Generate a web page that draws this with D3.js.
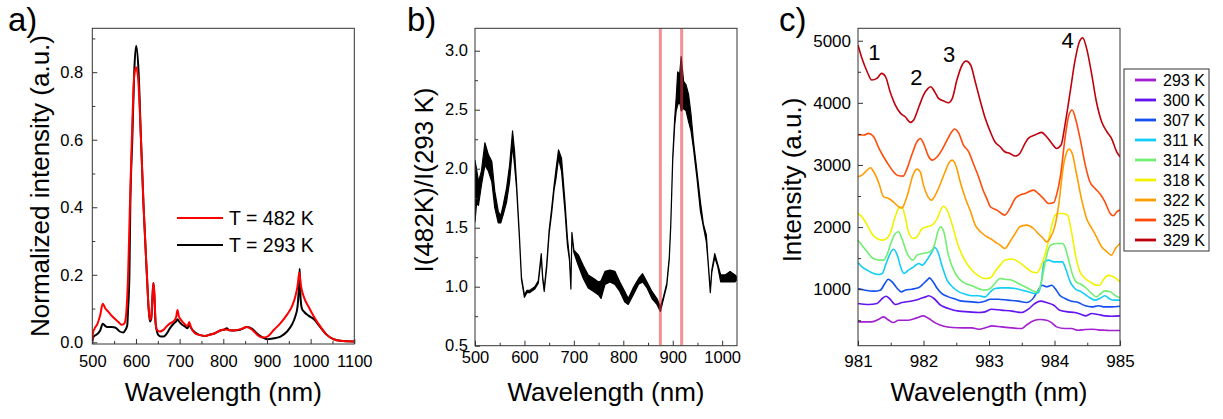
<!DOCTYPE html>
<html lang="en">
<head>
<meta charset="utf-8">
<title>Emission spectra</title>
<script src="https://cdn.jsdelivr.net/npm/d3@7"></script>
<style>
  body { margin: 0; background: #fff; }
  text { font-family: Arial, "Liberation Sans", sans-serif; fill: #000; }
</style>
</head>
<body>
<script>
// ---- panel a: normalized spectra ----
var aHot = [[500,0.005],[502,0.03],[505,0.04],[512,0.055],[518,0.08],[524,0.114],[530,0.1],[537,0.09],[545,0.078],[552,0.069],[560,0.06],[567,0.052],[572,0.054],[575,0.06],[578,0.09],[582,0.2],[586,0.4],[590.5,0.6],[596,0.79],[600.5,0.815],[605,0.78],[611.5,0.6],[617.5,0.4],[625,0.2],[629,0.1],[632,0.067],[635,0.075],[638,0.14],[640,0.176],[642,0.15],[645,0.06],[648,0.037],[655,0.032],[662,0.036],[670,0.047],[678,0.056],[686,0.062],[692,0.075],[695,0.096],[698,0.078],[704,0.065],[710,0.056],[718,0.048],[722,0.06],[725,0.048],[735,0.027],[745,0.022],[758,0.019],[770,0.023],[781,0.027],[793,0.035],[805,0.038],[824,0.035],[840,0.039],[854,0.045],[866,0.037],[878,0.022],[889,0.014],[901,0.017],[916,0.037],[931,0.057],[946,0.082],[957,0.106],[965,0.136],[970,0.166],[974,0.207],[978,0.166],[984,0.136],[995,0.106],[1007,0.077],[1022,0.047],[1037,0.022],[1053,0.009],[1068,0.0045],[1100,0.0025]];
var aRoom = [[500,0.002],[502,0.015],[506,0.02],[512,0.025],[518,0.035],[524,0.055],[530,0.048],[537,0.045],[545,0.045],[552,0.044],[558,0.038],[563,0.032],[571,0.029],[576,0.037],[580,0.05],[582,0.1],[585,0.2],[587,0.4],[591.6,0.6],[596,0.8],[600.5,0.878],[606,0.8],[611.5,0.6],[617.5,0.4],[625,0.2],[629,0.1],[632,0.062],[635,0.07],[638,0.14],[640,0.176],[642,0.14],[645,0.055],[651,0.022],[657,0.017],[663,0.017],[670,0.025],[678,0.042],[686,0.055],[692,0.062],[695,0.068],[700,0.06],[706,0.052],[712,0.047],[718,0.042],[722,0.054],[725,0.045],[735,0.03],[745,0.022],[758,0.019],[770,0.023],[781,0.027],[793,0.035],[803,0.038],[808,0.042],[813,0.036],[824,0.035],[840,0.038],[854,0.045],[866,0.04],[878,0.025],[889,0.015],[901,0.009],[916,0.012],[931,0.017],[946,0.032],[957,0.052],[965,0.077],[970,0.106],[973,0.16],[975,0.218],[977,0.13],[980,0.1],[986,0.089],[995,0.079],[1007,0.069],[1022,0.045],[1037,0.022],[1053,0.009],[1068,0.0045],[1100,0.0025]];
var aLegend = ["T = 482 K", "T = 293 K"];

// ---- panel b: intensity ratio (noisy trace read as low/high envelope) ----
var bWl = [500,503,507,513,520,527,534,540,547,552,557,564,570,576,580,584,590,594,600,605,611,621,628,634,637,640,645,650,655,660,664,669,675,682,687,691,694,696,700,709,719,729,740,750,755,763,773,783,793,803,810,820,831,839,848,858,868,875,881,888,893,896,900,904,907,910,914,917,922,927,932,937,942,949,956,962,968,971,976,979,985,991,997,1006,1016,1026,1030];
var bLo = [1.55,1.70,1.69,1.86,2.03,1.98,1.89,1.67,1.54,1.54,1.61,1.72,1.89,2.20,2.03,1.84,1.40,1.06,0.91,0.95,0.95,0.98,1.03,1.25,1.06,0.96,1.16,1.45,1.62,1.82,1.92,2.09,1.98,1.64,1.35,1.23,0.98,1.44,1.29,1.18,1.07,0.99,0.96,0.93,0.90,1.02,1.04,1.02,0.96,0.87,0.85,0.93,1.02,1.04,0.99,0.90,0.85,0.79,0.89,1.01,1.23,1.51,2.07,2.37,2.49,2.54,2.57,2.49,2.51,2.49,2.40,2.32,2.17,1.92,1.64,1.51,1.38,1.23,0.95,1.12,1.25,1.17,1.04,1.04,1.04,1.04,1.06];
var bHi = [2.07,2.00,1.89,1.98,2.22,2.12,2.06,1.81,1.64,1.60,1.69,1.84,2.03,2.32,2.15,1.88,1.42,1.08,0.93,0.97,0.97,1.00,1.05,1.28,1.08,0.98,1.19,1.48,1.66,1.86,2.00,2.16,2.09,1.72,1.41,1.25,1.00,1.46,1.31,1.27,1.18,1.10,1.07,1.04,1.05,1.13,1.14,1.13,1.04,0.96,0.90,0.99,1.07,1.11,1.04,0.96,0.90,0.83,0.91,1.03,1.25,1.53,2.10,2.43,2.60,2.82,2.80,2.95,2.74,2.71,2.63,2.46,2.23,1.98,1.72,1.53,1.44,1.25,0.97,1.14,1.28,1.19,1.10,1.10,1.13,1.10,1.08];
var bMarks = [875, 918];

// ---- panel c: spectra near 983 nm at several temperatures ----
var cTemps = ["293 K","300 K","307 K","311 K","314 K","318 K","322 K","325 K","329 K"];
var cColors = ["#a21fd2","#6414ee","#1450f0","#12cdf5","#72ee72","#f2f200","#ff9c00","#ff4c0a","#c0000a"];
var c293 = [[981.0,474],[981.21,474],[981.32,517],[981.39,554],[981.47,500],[981.54,463],[981.62,500],[981.77,500],[981.9,538],[982.0,570],[982.08,527],[982.18,458],[982.31,404],[982.44,383],[982.59,377],[982.74,377],[982.84,356],[982.97,388],[983.04,409],[983.19,393],[983.35,377],[983.5,366],[983.57,420],[983.68,490],[983.78,511],[983.88,500],[983.96,458],[984.03,393],[984.16,366],[984.26,366],[984.36,339],[984.47,350],[984.57,356],[984.67,345],[984.77,339],[984.87,334],[985.0,334]];
var c300 = [[981.0,769],[981.16,753],[981.29,769],[981.37,850],[981.43,887],[981.49,839],[981.57,753],[981.67,785],[981.8,807],[981.93,839],[982.03,876],[982.08,893],[982.16,850],[982.26,742],[982.38,689],[982.54,646],[982.69,635],[982.84,624],[982.94,635],[983.04,678],[983.19,662],[983.35,646],[983.5,624],[983.6,678],[983.7,769],[983.79,807],[983.88,785],[983.99,742],[984.08,662],[984.21,635],[984.31,624],[984.41,592],[984.47,570],[984.57,608],[984.67,592],[984.77,570],[984.87,565],[985.0,570]];
var c307 = [[981.0,1011],[981.11,984],[981.24,968],[981.34,984],[981.41,1091],[981.46,1161],[981.52,1118],[981.6,1011],[981.66,957],[981.72,984],[981.82,1000],[981.93,1027],[982.0,1091],[982.07,1161],[982.09,1182],[982.14,1129],[982.21,1011],[982.28,930],[982.38,876],[982.49,839],[982.59,807],[982.74,796],[982.84,785],[982.94,807],[983.02,839],[983.14,839],[983.29,823],[983.45,807],[983.57,785],[983.68,860],[983.75,984],[983.81,1064],[983.88,1038],[983.96,1064],[984.01,1011],[984.08,903],[984.16,850],[984.26,807],[984.36,785],[984.47,732],[984.57,715],[984.67,732],[984.77,715],[984.87,715],[985.0,726]];
var c311 = [[981.0,1430],[981.06,1360],[981.14,1306],[981.24,1252],[981.32,1236],[981.37,1252],[981.42,1387],[981.48,1548],[981.54,1644],[981.6,1548],[981.65,1360],[981.7,1252],[981.77,1306],[981.85,1360],[981.93,1413],[981.98,1387],[982.05,1467],[982.13,1601],[982.17,1671],[982.22,1601],[982.28,1387],[982.36,1145],[982.44,1038],[982.54,957],[982.64,919],[982.74,893],[982.84,893],[982.94,876],[983.02,957],[983.09,1011],[983.19,1021],[983.29,1021],[983.4,1011],[983.5,984],[983.6,957],[983.7,930],[983.75,941],[983.8,1118],[983.84,1440],[983.91,1467],[983.99,1440],[984.06,1440],[984.12,1440],[984.17,1333],[984.24,1118],[984.31,1011],[984.41,957],[984.52,876],[984.62,823],[984.69,850],[984.77,893],[984.85,839],[984.92,823],[985.0,823]];
var c314 = [[981.0,1789],[981.06,1709],[981.14,1601],[981.21,1510],[981.32,1467],[981.39,1467],[981.44,1548],[981.51,1763],[981.57,1897],[981.62,1924],[981.67,1816],[981.74,1601],[981.8,1494],[981.84,1467],[981.9,1548],[981.98,1575],[982.05,1585],[982.13,1628],[982.18,1763],[982.22,1924],[982.26,2004],[982.31,1924],[982.38,1548],[982.46,1306],[982.54,1172],[982.64,1091],[982.74,1054],[982.84,1011],[982.94,984],[983.02,1011],[983.09,1091],[983.17,1172],[983.24,1161],[983.35,1145],[983.45,1091],[983.55,1038],[983.65,984],[983.73,957],[983.8,1118],[983.85,1387],[983.91,1655],[983.96,1720],[984.03,1736],[984.12,1736],[984.16,1682],[984.21,1494],[984.27,1252],[984.33,1118],[984.41,1075],[984.49,1011],[984.57,930],[984.64,876],[984.69,914],[984.77,973],[984.85,957],[984.92,903],[985.0,860]];
var c318 = [[981.0,2219],[981.06,2165],[981.14,2031],[981.21,1897],[981.29,1816],[981.37,1789],[981.44,1816],[981.49,1897],[981.56,2138],[981.62,2300],[981.67,2326],[981.72,2165],[981.77,1924],[981.84,1816],[981.9,1843],[981.98,1977],[982.05,2004],[982.13,2031],[982.21,2138],[982.26,2273],[982.31,2335],[982.36,2273],[982.44,2031],[982.51,1763],[982.59,1548],[982.66,1413],[982.74,1306],[982.84,1215],[982.94,1172],[983.02,1182],[983.09,1279],[983.17,1387],[983.24,1467],[983.35,1485],[983.45,1440],[983.55,1360],[983.65,1279],[983.73,1264],[983.8,1387],[983.88,1655],[983.96,2031],[984.01,2192],[984.06,2219],[984.13,2219],[984.2,2192],[984.26,1924],[984.32,1548],[984.39,1279],[984.47,1172],[984.57,1100],[984.64,1064],[984.69,1064],[984.74,1145],[984.82,1222],[984.9,1199],[985.0,1118]];
var c322 = [[981.0,2810],[981.06,2836],[981.14,2917],[981.19,2955],[981.24,2890],[981.32,2702],[981.39,2487],[981.47,2461],[981.54,2407],[981.62,2327],[981.67,2305],[981.72,2407],[981.77,2568],[981.83,2810],[981.9,2933],[981.95,2890],[982.0,2675],[982.07,2487],[982.12,2434],[982.18,2514],[982.26,2702],[982.33,2890],[982.4,3051],[982.44,3078],[982.5,2971],[982.56,2729],[982.64,2461],[982.72,2246],[982.79,2031],[982.87,1924],[982.97,1843],[983.02,1816],[983.09,1763],[983.17,1709],[983.24,1655],[983.32,1763],[983.4,1897],[983.47,2004],[983.57,2031],[983.68,1977],[983.75,1897],[983.83,1816],[983.88,1760],[983.93,1816],[984.01,2031],[984.07,2407],[984.13,2944],[984.18,3186],[984.22,3255],[984.27,3186],[984.33,2890],[984.41,2461],[984.49,2139],[984.57,1977],[984.64,1843],[984.72,1682],[984.8,1601],[984.87,1548],[984.93,1655],[985.0,1736]];
var c325 = [[981.0,3481],[981.09,3481],[981.16,3508],[981.24,3454],[981.32,3266],[981.39,3132],[981.47,2998],[981.54,2890],[981.62,2826],[981.69,2820],[981.75,2944],[981.82,3159],[981.9,3374],[981.95,3427],[982.0,3347],[982.08,3132],[982.13,3078],[982.21,3132],[982.28,3239],[982.36,3400],[982.44,3545],[982.47,3578],[982.54,3508],[982.61,3320],[982.69,3212],[982.77,2998],[982.84,2810],[982.92,2568],[982.97,2450],[983.02,2327],[983.12,2273],[983.19,2219],[983.24,2192],[983.32,2300],[983.4,2461],[983.47,2514],[983.55,2541],[983.68,2595],[983.75,2541],[983.83,2461],[983.91,2380],[983.99,2396],[984.03,2514],[984.1,2890],[984.16,3427],[984.22,3803],[984.27,3884],[984.32,3749],[984.39,3427],[984.47,2998],[984.54,2729],[984.62,2622],[984.69,2541],[984.77,2407],[984.85,2219],[984.9,2181],[984.95,2246],[985.0,2273]];
var c329 = [[981.0,4931],[981.06,4716],[981.14,4501],[981.21,4367],[981.29,4394],[981.36,4474],[981.42,4421],[981.49,4179],[981.57,3964],[981.65,3830],[981.72,3776],[981.8,3685],[981.85,3723],[981.93,3937],[982.0,4125],[982.07,4233],[982.11,4260],[982.17,4179],[982.23,4072],[982.31,4029],[982.38,4002],[982.44,4072],[982.51,4367],[982.59,4609],[982.65,4673],[982.72,4609],[982.79,4340],[982.87,4018],[982.94,3760],[983.02,3535],[983.09,3374],[983.17,3293],[983.24,3212],[983.32,3186],[983.4,3143],[983.47,3186],[983.55,3347],[983.6,3427],[983.7,3481],[983.8,3524],[983.88,3454],[983.96,3347],[984.03,3266],[984.1,3320],[984.16,3642],[984.24,4179],[984.31,4662],[984.38,4984],[984.43,5049],[984.49,4877],[984.57,4447],[984.64,4018],[984.72,3696],[984.8,3535],[984.87,3427],[984.95,3212],[985.0,3132]];
var cSeries = [c293, c300, c307, c311, c314, c318, c322, c325, c329];
var cPeakLabels = [["1", 981.25, 4690], ["2", 981.89, 4290], ["3", 982.39, 4660], ["4", 984.2, 4880]];

var W = 1223, H = 419;
var svg = d3.select("body").append("svg").attr("width", W).attr("height", H);

// draws box, inward ticks and tick labels for one panel
function drawAxes(x, y, o) {
  var g = svg.append("g");
  var y0 = y.range()[0], x0 = x.range()[0];
  var bx = g.append("g").attr("transform", "translate(0," + y0 + ")")
    .call(d3.axisBottom(x).tickValues(o.xMajor).tickSize(-5).tickPadding(o.xPad).tickFormat(o.xFmt));
  bx.selectAll("text").style("font-size", o.fs + "px");
  g.append("g").attr("transform", "translate(0," + y0 + ")")
    .call(d3.axisBottom(x).tickValues(o.xMinor).tickSize(-3).tickFormat(""));
  var ly = g.append("g").attr("transform", "translate(" + x0 + ",0)")
    .call(d3.axisLeft(y).tickValues(o.yMajor).tickSize(-5).tickPadding(o.yPad).tickFormat(o.yFmt));
  ly.selectAll("text").style("font-size", o.fs + "px");
  g.append("g").attr("transform", "translate(" + x0 + ",0)")
    .call(d3.axisLeft(y).tickValues(o.yMinor).tickSize(-3).tickFormat(""));
  g.selectAll(".domain").remove();
  g.selectAll(".tick line").attr("stroke", "#333");
  g.selectAll(".tick text").attr("fill", "#000").style("font-family", "Arial, 'Liberation Sans', sans-serif");
  svg.append("rect")
    .attr("x", x.range()[0]).attr("y", y.range()[1])
    .attr("width", x.range()[1] - x.range()[0]).attr("height", y.range()[0] - y.range()[1])
    .attr("fill", "none").attr("stroke", "#333").attr("stroke-width", 1);
  // titles
  svg.append("text").attr("x", (x.range()[0] + x.range()[1]) / 2).attr("y", o.xtY)
    .attr("text-anchor", "middle").style("font-size", "26px").text(o.xTitle);
  svg.append("text").attr("transform", "translate(" + o.ytX + "," + o.ytCy + ") rotate(-90)")
    .attr("text-anchor", "middle").style("font-size", "26px").text(o.yTitle);
  svg.append("text").attr("x", o.tagX).attr("y", o.tagY).style("font-size", "33px").text(o.tag);
}

function clipFor(id, x, y) {
  svg.append("clipPath").attr("id", id).append("rect")
    .attr("x", x.range()[0]).attr("y", y.range()[1])
    .attr("width", x.range()[1] - x.range()[0]).attr("height", y.range()[0] - y.range()[1]);
  return svg.append("g").attr("clip-path", "url(#" + id + ")");
}

// ---------- panel a ----------
var xa = d3.scaleLinear().domain([500, 1100]).range([92.3, 354.3]);
var ya = d3.scaleLinear().domain([-0.005, 0.93]).range([344, 28.3]);
var pa = clipFor("clipA", xa, ya);
var lineA = d3.line().x(function(d) { return xa(d[0]); }).y(function(d) { return ya(d[1]); }).curve(d3.curveMonotoneX);
pa.append("path").datum(aRoom).attr("d", lineA).attr("fill", "none").attr("stroke", "#000").attr("stroke-width", 2);
pa.append("path").datum(aHot).attr("d", lineA).attr("fill", "none").attr("stroke", "#ff0000").attr("stroke-width", 2);
drawAxes(xa, ya, {
  xMajor: d3.range(500, 1101, 100), xMinor: d3.range(550, 1100, 100),
  yMajor: [0, 0.2, 0.4, 0.6, 0.8], yMinor: [0.1, 0.3, 0.5, 0.7, 0.9],
  xFmt: d3.format("d"), yFmt: d3.format(".1f"), fs: 16.5, xPad: 11, yPad: 9,
  xTitle: "Wavelength (nm)", yTitle: "Normalized intensity (a.u.)",
  xtY: 401, ytX: 49, ytCy: 186, tag: "a)", tagX: 8, tagY: 31
});
var legA = svg.append("g");
[["#ff0000", 218], ["#000", 245]].forEach(function(s, i) {
  legA.append("line").attr("x1", 177).attr("x2", 223).attr("y1", s[1]).attr("y2", s[1])
    .attr("stroke", s[0]).attr("stroke-width", 2);
  legA.append("text").attr("x", 229).attr("y", s[1] + 7).style("font-size", "19.5px").text(aLegend[i]);
});

// ---------- panel b ----------
var xb = d3.scaleLinear().domain([500, 1030]).range([475, 737]);
var yb = d3.scaleLinear().domain([0.5, 3.19]).range([345.7, 28.3]);
var pb = clipFor("clipB", xb, yb);
var bRows = bWl.map(function(w, i) { return { w: w, lo: bLo[i], hi: bHi[i] }; });
pb.append("path").datum(bRows)
  .attr("d", d3.area().x(function(d) { return xb(d.w); }).y0(function(d) { return yb(d.lo); }).y1(function(d) { return yb(d.hi); }))
  .attr("fill", "#000").attr("stroke", "#000").attr("stroke-width", 1.2).attr("stroke-linejoin", "round");
pb.selectAll("line.mark").data(bMarks).enter().append("line").attr("class", "mark")
  .attr("x1", function(d) { return xb(d); }).attr("x2", function(d) { return xb(d); })
  .attr("y1", yb.range()[1]).attr("y2", yb.range()[0])
  .attr("stroke", "#e8383a").attr("stroke-opacity", 0.55).attr("stroke-width", 3);
drawAxes(xb, yb, {
  xMajor: d3.range(500, 1001, 100), xMinor: d3.range(550, 1001, 100),
  yMajor: [0.5, 1.0, 1.5, 2.0, 2.5, 3.0], yMinor: [0.75, 1.25, 1.75, 2.25, 2.75],
  xFmt: d3.format("d"), yFmt: d3.format(".1f"), fs: 16.5, xPad: 6, yPad: 7,
  xTitle: "Wavelength (nm)", yTitle: "I(482K)/I(293 K)",
  xtY: 401, ytX: 433, ytCy: 180, tag: "b)", tagX: 407, tagY: 31
});

// ---------- panel c ----------
var xc = d3.scaleLinear().domain([981, 985]).range([858, 1120]);
var yc = d3.scaleLinear().domain([90, 5200]).range([345.7, 28.3]);
var pc = clipFor("clipC", xc, yc);
var lineC = d3.line().x(function(d) { return xc(d[0]); }).y(function(d) { return yc(d[1]); }).curve(d3.curveMonotoneX);
cSeries.forEach(function(s, i) {
  pc.append("path").datum(s).attr("d", lineC).attr("fill", "none")
    .attr("stroke", cColors[i]).attr("stroke-width", 1.6);
});
svg.selectAll("text.peak").data(cPeakLabels).enter().append("text").attr("class", "peak")
  .attr("x", function(d) { return xc(d[1]); }).attr("y", function(d) { return yc(d[2]); })
  .attr("text-anchor", "middle").style("font-size", "22px").text(function(d) { return d[0]; });
drawAxes(xc, yc, {
  xMajor: [981, 982, 983, 984, 985], xMinor: [981.5, 982.5, 983.5, 984.5],
  yMajor: [1000, 2000, 3000, 4000, 5000], yMinor: [500, 1500, 2500, 3500, 4500],
  xFmt: d3.format("d"), yFmt: d3.format("d"), fs: 17, xPad: 9, yPad: 7,
  xTitle: "Wavelength (nm)", yTitle: "Intensity (a.u.)",
  xtY: 401, ytX: 801, ytCy: 180, tag: "c)", tagX: 779, tagY: 31
});
var legC = svg.append("g");
legC.append("rect").attr("x", 1124).attr("y", 69).attr("width", 85).attr("height", 182)
  .attr("fill", "#fff").attr("stroke", "#333");
cTemps.forEach(function(t, i) {
  var yy = 80 + i * 20;
  legC.append("line").attr("x1", 1135).attr("x2", 1156).attr("y1", yy).attr("y2", yy)
    .attr("stroke", cColors[i]).attr("stroke-width", 2.8);
  legC.append("text").attr("x", 1163).attr("y", yy + 6).style("font-size", "16px").text(t);
});
</script>
</body>
</html>
